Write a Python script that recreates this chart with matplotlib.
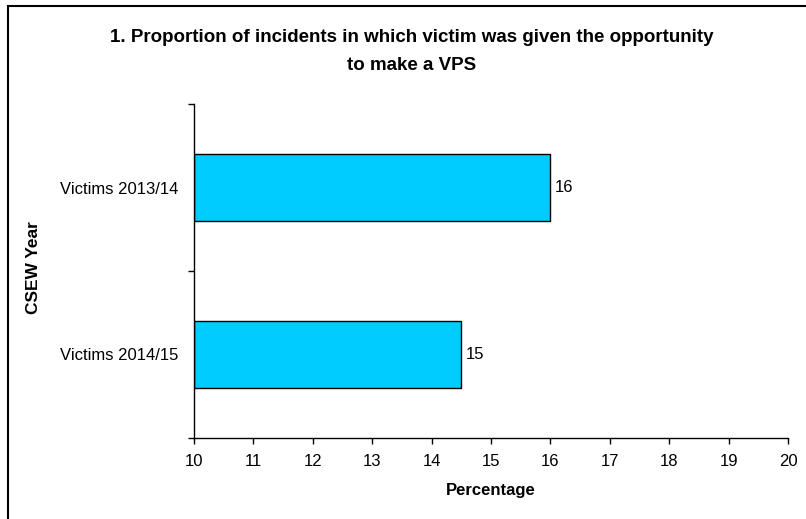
import matplotlib.pyplot as plt
from matplotlib.patches import Rectangle

categories = ['Victims 2013/14', 'Victims 2014/15']
values = [16.0, 14.5]
value_labels = ['16', '15']
x_ticks = list(range(10, 21))

plt.rcParams['font.family'] = ['Liberation Sans', 'DejaVu Sans']

fig = plt.figure(figsize=(8.06, 5.19), dpi=100)
ax = fig.add_axes([194 / 806, 1 - 438 / 519, (788 - 194) / 806, (438 - 104) / 519])

# frame around the chart area
fig.patches.append(Rectangle((8 / 806, -0.05), 1.2, 1 - 6 / 519 + 0.05,
                             transform=fig.transFigure, fill=False,
                             edgecolor='black', linewidth=1.5))

pos = [1.5, 0.5]
ax.barh(pos, [v - 10 for v in values], left=10, height=0.4,
        color='#00CCFF', edgecolor='black', linewidth=1)
for p, v, lab in zip(pos, values, value_labels):
    ax.text(v + 0.08, p, lab, va='center', ha='left', fontsize=12)

ax.set_xlim(10, 20)
ax.set_ylim(0, 2)
ax.set_xticks(x_ticks)
ax.set_xticklabels([str(t) for t in x_ticks], fontsize=12)
ax.set_yticks([0, 1, 2])
ax.set_yticklabels([])
ax.set_yticks(pos, minor=True)
ax.set_yticklabels(categories, minor=True, fontsize=12)
ax.tick_params(axis='y', which='minor', length=0, pad=11)
ax.tick_params(axis='both', which='major', direction='out', length=4.5, width=1)
ax.tick_params(axis='x', pad=7)

for s in ['top', 'right']:
    ax.spines[s].set_visible(False)
for s in ['left', 'bottom']:
    ax.spines[s].set_linewidth(1)

ax.set_xlabel('Percentage', fontsize=12, fontweight='bold', labelpad=10)
fig.text(33 / 806, 1 - 268 / 519, 'CSEW Year', rotation=90, fontsize=12.5,
         fontweight='bold', ha='center', va='center')

fig.text(412 / 806, 1 - 37 / 519, '1. Proportion of incidents in which victim was given the opportunity',
         ha='center', va='center', fontsize=13.5, fontweight='bold')
fig.text(412 / 806, 1 - 65 / 519, 'to make a VPS',
         ha='center', va='center', fontsize=13.5, fontweight='bold')

fig.savefig('out.png', dpi=100)
